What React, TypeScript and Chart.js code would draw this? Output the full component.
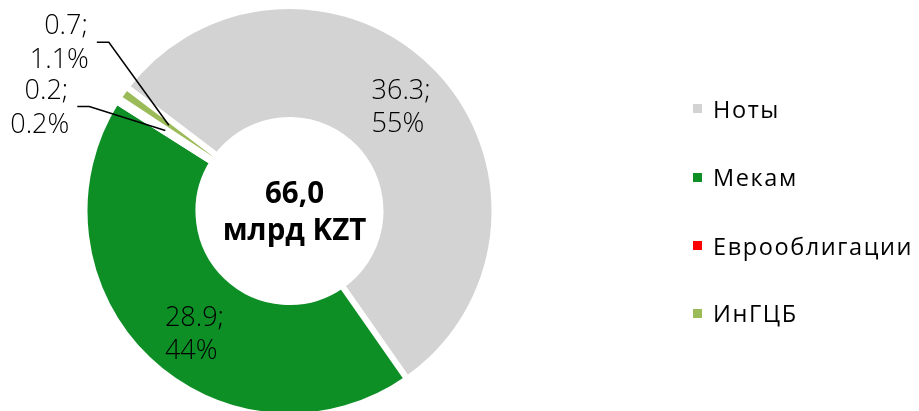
import React, { useEffect, useRef } from "react";
import { Chart, registerables } from "chart.js";

Chart.register(...registerables);

const categories = ["Ноты", "Мекам", "Еврооблигации", "ИнГЦБ"];
const values = [36.3, 28.9, 0.2, 0.7];
const valueLabels = ["36.3;", "28.9;", "0.2;", "0.7;"];
const percentLabels = ["55%", "44%", "0.2%", "1.1%"];
const colors = ["#D3D3D3", "#0E8F26", "#FF0000", "#9BBB59"];
const centerLines = ["66,0", "млрд KZT"];

const NUM_FONT = "300 27px 'Open Sans', sans-serif";
const CENTER_FONT = "700 29.5px 'Open Sans', sans-serif";

const labelPlacement = (chart: any) => {
  const meta = chart.getDatasetMeta(0);
  const ctx = chart.ctx as CanvasRenderingContext2D;
  const arcs = meta.data as any[];
  const cx = arcs[0].x;
  const cy = arcs[0].y;
  ctx.save();
  ctx.fillStyle = "#000";
  ctx.font = NUM_FONT;
  ctx.textBaseline = "alphabetic";
  const pitch = 33;

  arcs.forEach((arc, i) => {
    const p = arc.getProps(["startAngle", "endAngle", "innerRadius", "outerRadius"], true);
    const mid = (p.startAngle + p.endAngle) / 2;
    const midR = (p.innerRadius + p.outerRadius) / 2;
    const ax = cx + Math.cos(mid) * midR;
    const ay = cy + Math.sin(mid) * midR;
    const l1 = valueLabels[i];
    const l2 = percentLabels[i];
    if (i < 2) {
      const adj = i === 0 ? [2, 0] : [10, 12];
      const lx = cx + Math.cos(mid) * 152 + adj[0];
      const ly = cy + Math.sin(mid) * 152 + adj[1];
      const w = Math.max(ctx.measureText(l1).width, ctx.measureText(l2).width);
      ctx.textAlign = "left";
      ctx.fillText(l1, lx - w / 2, ly - 6.5);
      ctx.fillText(l2, lx - w / 2, ly - 6.5 + pitch);
    } else {
      const elbow = i === 3 ? [ax - 60, ay - 83] : [ax - 76, ay - 24];
      const start = [elbow[0] - 12, elbow[1]];
      ctx.strokeStyle = "#000";
      ctx.lineWidth = 1.5;
      ctx.beginPath();
      ctx.moveTo(start[0], start[1]);
      ctx.lineTo(elbow[0], elbow[1]);
      ctx.lineTo(ax, ay);
      ctx.stroke();
      ctx.textAlign = "right";
      const rx = start[0] - 9;
      const by = elbow[1] - 8;
      ctx.fillText(l1, rx, by);
      ctx.fillText(l2, rx + 1, by + 34);
    }
  });

  ctx.font = CENTER_FONT;
  ctx.textAlign = "center";
  ctx.fillText(centerLines[0], cx + 5, cy - 8);
  ctx.fillText(centerLines[1], cx + 5, cy + 29);
  ctx.restore();
};

export default function App() {
  const ref = useRef<HTMLCanvasElement>(null);

  useEffect(() => {
    if (!ref.current) return;
    const chart = new Chart(ref.current, {
      type: "doughnut",
      data: {
        labels: categories,
        datasets: [
          {
            data: values,
            backgroundColor: colors,
            borderColor: "#ffffff",
            borderWidth: 6,
          },
        ],
      },
      options: {
        responsive: false,
        animation: false,
        events: [],
        rotation: -52.7,
        radius: 205,
        cutout: "44.4%",
        layout: { padding: { left: 76.5, right: 416.5, top: 11, bottom: 0 } },
        plugins: {
          legend: { display: false },
          tooltip: { enabled: false },
        },
      },
      plugins: [{ id: "labels", afterDatasetsDraw: labelPlacement }],
    });
    return () => chart.destroy();
  }, []);

  const legendTops = [108.5, 177, 245.5, 313];
  return (
    <div style={{ position: "absolute", left: 0, top: 0, width: 919, height: 411, background: "#fff" }}>
      <canvas ref={ref} width={919} height={411} style={{ position: "absolute", left: 0, top: 0 }} />
      {categories.map((c, i) => (
        <div
          key={c}
          style={{
            position: "absolute",
            left: 693,
            top: legendTops[i] - 15,
            height: 30,
            display: "flex",
            alignItems: "center",
            fontFamily: "'Open Sans', sans-serif",
            fontSize: 23.5,
            letterSpacing: 1.6,
            color: "#000",
            whiteSpace: "nowrap",
          }}
        >
          <span style={{ display: "inline-block", width: 9, height: 9, background: colors[i], marginRight: 11 }} />
          <span>{c}</span>
        </div>
      ))}
    </div>
  );
}
